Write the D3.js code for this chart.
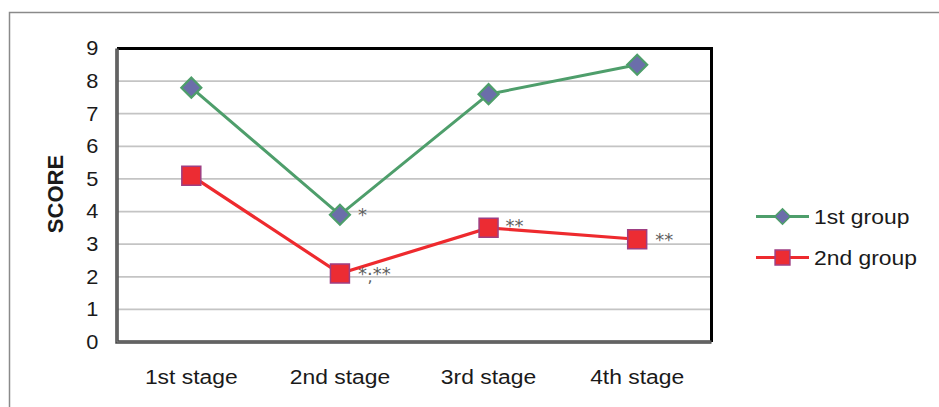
<!DOCTYPE html>
<html>
<head>
<meta charset="utf-8">
<script src="https://cdn.jsdelivr.net/npm/d3@7"></script>
<style>
  html, body { margin: 0; padding: 0; background: #fff; }
  svg { display: block; font-family: "Liberation Sans", Arial, sans-serif; }
</style>
</head>
<body>
<svg id="chart" width="939" height="407"></svg>
<script>
// ---- data ----
const categories = ["1st stage", "2nd stage", "3rd stage", "4th stage"];
const group1 = [7.8, 3.9, 7.6, 8.5];
const group2 = [5.1, 2.1, 3.5, 3.15];
const seriesNames = ["1st group", "2nd group"];
const yTicks = [0, 1, 2, 3, 4, 5, 6, 7, 8, 9];
const annot1 = ["", "*", "", ""];
const annot2 = ["", "*·**", "**", "**"];

// ---- layout ----
const W = 939, H = 407;
const plot = { left: 117, top: 48.5, right: 711.5, bottom: 342 };
const sx = 1.09; // horizontal text stretch seen in the reference
const green = "#4E9E6B", red = "#EE2A2E";

const svg = d3.select("#chart");

// outer frame (top + left visible)
svg.append("path")
  .attr("d", `M9.5,${H} L9.5,12.5 L${W},12.5`)
  .attr("fill", "none").attr("stroke", "#8a8a8a").attr("stroke-width", 1.5);

const x = d3.scaleBand().domain(categories).range([plot.left, plot.right]);
const y = d3.scaleLinear().domain([0, 9]).range([plot.bottom, plot.top]);
const cx = c => x(c) + x.bandwidth() / 2;

// gridlines
svg.append("g").selectAll("line").data(yTicks.filter(t => t > 0 && t < 9)).join("line")
  .attr("x1", plot.left).attr("x2", plot.right)
  .attr("y1", d => y(d)).attr("y2", d => y(d))
  .attr("stroke", "#c4c4c4").attr("stroke-width", 1.8);

// plot frame: top/right black, left/bottom dark gray
svg.append("path")
  .attr("d", `M${plot.left},${plot.top} L${plot.right},${plot.top} L${plot.right},${plot.bottom}`)
  .attr("fill", "none").attr("stroke", "#000").attr("stroke-width", 3);
svg.append("path")
  .attr("d", `M${plot.left},${plot.top} L${plot.left},${plot.bottom} L${plot.right},${plot.bottom}`)
  .attr("fill", "none").attr("stroke", "#4a4a4a").attr("stroke-width", 3.5);
svg.append("path")
  .attr("d", `M${plot.left},${plot.top+1} L${plot.left},${plot.bottom} L${plot.right-1},${plot.bottom}`)
  .attr("fill", "none").attr("stroke", "#8c8c8c").attr("stroke-width", 0.8);

// y axis
const yAxis = svg.append("g").attr("transform", `translate(${plot.left},0)`)
  .call(d3.axisLeft(y).tickValues(yTicks).tickSize(0).tickPadding(17).tickFormat(d3.format("d")));
yAxis.select(".domain").remove();
yAxis.selectAll("text")
  .attr("font-family", "Liberation Sans, Arial, sans-serif")
  .attr("font-size", 20).attr("fill", "#1a1a1a")
  .attr("transform", `scale(${sx},1)`);

// x axis
const xAxis = svg.append("g").attr("transform", `translate(0,${plot.bottom})`)
  .call(d3.axisBottom(x).tickSize(0));
xAxis.select(".domain").remove();
xAxis.selectAll(".tick text")
  .attr("font-family", "Liberation Sans, Arial, sans-serif")
  .attr("font-size", 21).attr("fill", "#1a1a1a")
  .attr("y", 0).attr("dy", 0)
  .attr("transform", `translate(0,41.5) scale(${sx},1)`);

// y title
svg.append("text")
  .attr("transform", `translate(63,194) rotate(-90)`)
  .attr("text-anchor", "middle")
  .attr("font-size", 22).attr("font-weight", "bold").attr("fill", "#1a1a1a")
  .text("SCORE");

// lines
const line = d3.line().x((d, i) => cx(categories[i])).y(d => y(d));
svg.append("path").datum(group1).attr("d", line)
  .attr("fill", "none").attr("stroke", green).attr("stroke-width", 3);
svg.append("path").datum(group2).attr("d", line)
  .attr("fill", "none").attr("stroke", red).attr("stroke-width", 3.2);

// markers
const diamond = d3.symbol(d3.symbolSquare, 200);
const square = d3.symbol(d3.symbolSquare, 360);
svg.append("g").selectAll("path").data(group1).join("path")
  .attr("d", diamond)
  .attr("transform", (d, i) => `translate(${cx(categories[i])},${y(d)}) rotate(45)`)
  .attr("fill", "#6B6EAA").attr("stroke", green).attr("stroke-width", 2.2);
svg.append("g").selectAll("path").data(group2).join("path")
  .attr("d", square)
  .attr("transform", (d, i) => `translate(${cx(categories[i])},${y(d)})`)
  .attr("fill", "#EC2C33").attr("stroke", "#9E3E82").attr("stroke-width", 1.5);

// significance annotations
const annStyle = s => s.attr("font-family", "DejaVu Sans, sans-serif")
  .attr("font-size", 18).attr("fill", "#5f5f5f");
const dx1 = [0, 18, 0, 0], dy1 = [0, 6.5, 0, 0];
const dx2 = [0, 18, 17, 18], dy2 = [0, 6.4, 4.4, 7];
svg.append("g").selectAll("text").data(annot1).join("text")
  .attr("x", (d, i) => cx(categories[i]) + dx1[i])
  .attr("y", (d, i) => y(group1[i]) + dy1[i])
  .call(annStyle).text(d => d);
const a2 = svg.append("g").selectAll("text").data(annot2).join("text")
  .attr("x", (d, i) => cx(categories[i]) + dx2[i])
  .attr("y", (d, i) => y(group2[i]) + dy2[i])
  .call(annStyle).text(d => d);
// stray comma drawn under the middle dot of "*·**" (as in the reference)
a2.filter((d, i) => i === 1).append("tspan")
  .attr("x", cx(categories[1]) + 27.5).attr("dy", 2).attr("font-size", 16).text(",");

// legend
const legend = svg.append("g");
const legItems = [
  { name: seriesNames[0], color: green, sym: d3.symbol(d3.symbolSquare, 120), rot: 45, fill: "#6B6EAA", stroke: green },
  { name: seriesNames[1], color: red, sym: d3.symbol(d3.symbolSquare, 220), rot: 0, fill: "#EC2C33", stroke: "#9E3E82" }
];
const legY = [216.5, 257.5];
legItems.forEach((it, i) => {
  const g = legend.append("g").attr("transform", `translate(0,${legY[i]})`);
  g.append("line").attr("x1", 756).attr("x2", 809).attr("y1", 0).attr("y2", 0)
    .attr("stroke", it.color).attr("stroke-width", 3);
  g.append("path").attr("d", it.sym)
    .attr("transform", `translate(782.5,0) rotate(${it.rot})`)
    .attr("fill", it.fill).attr("stroke", it.stroke).attr("stroke-width", 1.5);
  g.append("text")
    .attr("transform", `translate(814,7.5) scale(${sx},1)`)
    .attr("font-size", 21).attr("fill", "#1a1a1a")
    .text(it.name);
});
</script>
</body>
</html>
